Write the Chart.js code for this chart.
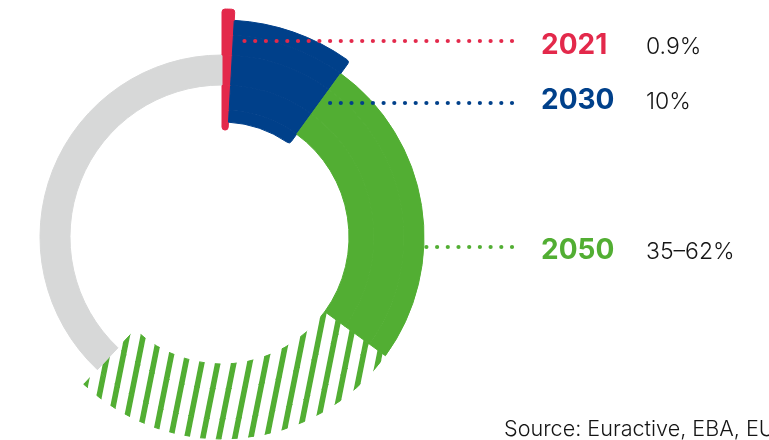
<!DOCTYPE html>
<html>
<head>
<meta charset="utf-8">
<script src="https://cdn.jsdelivr.net/npm/chart.js@4/dist/chart.umd.min.js"></script>
<style>
  html, body { margin: 0; padding: 0; background: #fff; overflow: hidden; }
  #wrap { position: relative; width: 769px; height: 440px; }
</style>
</head>
<body>
<div id="wrap"><canvas id="chart"></canvas></div>
<script>
// values
const years = ['2021', '2030', '2050'];
const valueLabels = ['0.9%', '10%', '35–62%'];
const shareLow = [0.9, 10, 35];     // % of the circle
const shareHigh2050 = 62;           // upper end of the 2050 range
const source = 'Source: Euractive, EBA, EU';

const segments = ['2021', '2030', '2050', '2050 range', 'rest'];
const segmentValues = [
  shareLow[0],
  shareLow[1] - shareLow[0],
  shareLow[2] - shareLow[1],
  shareHigh2050 - shareLow[2],
  100 - shareHigh2050
];

const RED = '#e3294b';
const BLUE = '#00408a';
const GREEN = '#52ae33';
const GREY = '#d7d8d8';
const TEXT = '#151515';

const canvas = document.getElementById('chart');
const ctx = canvas.getContext('2d');

// diagonal green stripes for the 35–62% range
function makeHatch() {
  const tile = document.createElement('canvas');
  tile.width = 16;
  tile.height = 80;
  const t = tile.getContext('2d');
  t.strokeStyle = GREEN;
  t.lineWidth = 5.6;
  for (let k = -1; k <= 2; k++) {
    t.beginPath();
    t.moveTo(2.4 + 16 * k + 2, -10);
    t.lineTo(2.4 + 16 * k - 18, 90);
    t.stroke();
  }
  return ctx.createPattern(tile, 'repeat');
}

const segmentFill = [RED, BLUE, GREEN, makeHatch(), GREY];

// rings from outside in: thickness and which segments reach into them
const bands = [
  { weight: 11, show: [0] },
  { weight: 15, show: [0, 1] },
  { weight: 20, show: [0, 1, 2, 3] },
  { weight: 30, show: [0, 1, 2, 3, 4] },
  { weight: 25, show: [0, 1, 2, 3] },
  { weight: 12, show: [0, 1] },
  { weight: 8, show: [0] }
];

function cornerRadius(b, i) {
  if (i === 0 && b === 0) return { outerStart: 3, outerEnd: 3 };
  if (i === 0 && b === bands.length - 1) return { innerStart: 3, innerEnd: 3 };
  if (i === 1 && b === 1) return { outerEnd: 3 };
  if (i === 1 && b === 5) return { innerEnd: 3 };
  return 0;
}

const datasets = bands.map((band, b) => {
  const colors = segmentFill.map((c, i) => band.show.includes(i) ? c : 'transparent');
  return {
    label: 'ring ' + b,
    data: segmentValues,
    weight: band.weight,
    backgroundColor: colors,
    borderColor: colors,
    borderWidth: 1,
    borderRadius: (c) => cornerRadius(b, c.dataIndex),
    clip: false
  };
});

// leader rows: y of the dotted line, text baseline, colour
const rows = [
  { lineY: 41, baseY: 54, color: RED, seg: 0, from: 'edge' },
  { lineY: 103, baseY: 109, color: BLUE, seg: 1, from: 'edge' },
  { lineY: 247, baseY: 259, color: GREEN, seg: 2, from: 'rim' }
];

const labelsPlugin = {
  id: 'labels',
  afterDatasetsDraw(chart) {
    const c = chart.ctx;
    const arcs0 = chart.getDatasetMeta(0).data;
    const cx = arcs0[0].x, cy = arcs0[0].y;

    rows.forEach((row, r) => {
      let startX;
      if (row.from === 'edge') {
        const a = arcs0[row.seg].endAngle;
        startX = cx + (row.lineY - cy) * Math.cos(a) / Math.sin(a);
      } else {
        const R = chart.getDatasetMeta(2).data[row.seg].outerRadius;
        startX = cx + Math.sqrt(R * R - (row.lineY - cy) * (row.lineY - cy));
      }
      c.save();
      c.fillStyle = row.color;
      for (let x = 512; x > startX + 1; x -= 10.7) {
        c.beginPath();
        c.arc(x, row.lineY, 2.1, 0, Math.PI * 2);
        c.fill();
      }
      c.textBaseline = 'alphabetic';
      c.textAlign = 'left';
      c.font = 'bold 28px Inter';
      c.fillText(years[r], 541, row.baseY);
      c.fillStyle = TEXT;
      c.font = '300 23px Inter';
      c.fillText(valueLabels[r], 646, row.baseY);
      c.restore();
    });

    c.save();
    c.fillStyle = TEXT;
    c.font = '300 21.6px Inter';
    c.fillText(source, 504, 436);
    c.restore();
  }
};

new Chart(ctx, {
  type: 'doughnut',
  data: {
    labels: segments,
    datasets: datasets
  },
  options: {
    responsive: true,
    maintainAspectRatio: false,
    animation: false,
    events: [],
    radius: 228,
    cutout: (107 / 228 * 100) + '%',
    layout: {
      padding: { left: 0, right: 325, top: 34, bottom: 0 }
    },
    plugins: {
      legend: { display: false },
      tooltip: { enabled: false }
    }
  },
  plugins: [labelsPlugin]
});
</script>
</body>
</html>
